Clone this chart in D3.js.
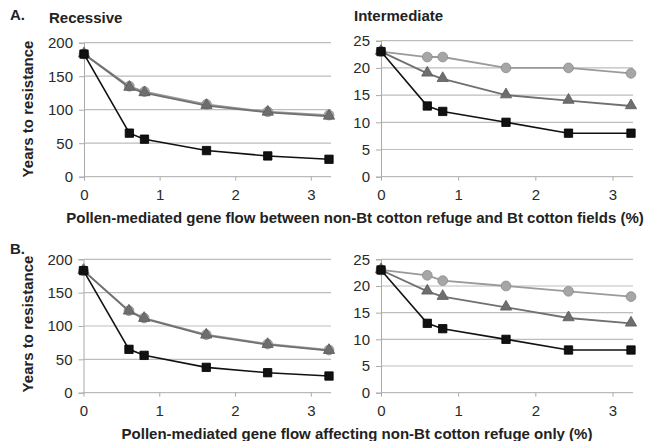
<!DOCTYPE html>
<html lang="en">
<head>
<meta charset="UTF-8" />
<title>Years to resistance</title>
<style>
  body { margin: 0; background: #fff; font-family: "Liberation Sans", Arial, sans-serif; }
  svg { display: block; }
  .tick text { font-size: 15px; fill: #2a2a2a; font-family: "Liberation Sans", Arial, sans-serif; }
  .lbl { font-weight: bold; font-size: 15px; fill: #222; }
</style>
</head>
<body>
<svg width="650" height="441"></svg>
<script src="https://d3js.org/d3.v7.min.js"></script>
<script>
// gene flow (%) on x
const flow = [0, 0.6, 0.8, 1.62, 2.43, 3.24];

// A. gene flow between refuge and Bt fields
const aRecCircle = [183, 135, 127, 108, 97, 92];
const aRecTriangle = [183, 133, 125, 106, 96, 90];
const aRecSquare = [183, 65, 56, 39, 31, 26];
const aIntCircle = [23, 22, 22, 20, 20, 19];
const aIntTriangle = [23, 19, 18, 15, 14, 13];
const aIntSquare = [23, 13, 12, 10, 8, 8];

// B. gene flow affecting refuge only
const bRecCircle = [183, 123, 112, 87, 73, 64];
const bRecTriangle = [183, 122, 111, 86, 72, 63];
const bRecSquare = [183, 65, 56, 38, 30, 25];
const bIntCircle = [23, 22, 21, 20, 19, 18];
const bIntTriangle = [23, 19, 18, 16, 14, 13];
const bIntSquare = [23, 13, 12, 10, 8, 8];

const recTicks = [0, 50, 100, 150, 200];
const intTicks = [0, 5, 10, 15, 20, 25];
const xTicks = [0, 1, 2, 3];

const svg = d3.select("svg");

const styles = {
  circle: { fill: "#a6a6a6", stroke: "#8c8c8c", line: "#9a9a9a" },
  triangle: { fill: "#6e6e6e", stroke: "#5a5a5a", line: "#707070" },
  square: { fill: "#111", stroke: "#000", line: "#111" }
};

function panel(x0, x1, yTop, yBot, yMax, ticks, series) {
  const x = d3.scaleLinear().domain([0, 3.24]).range([x0, x1 - 2]);
  const y = d3.scaleLinear().domain([0, yMax]).range([yBot, yTop]);
  const g = svg.append("g");

  // gridlines
  g.append("g").selectAll("line").data(ticks.filter(t => t > 0)).join("line")
    .attr("x1", x0).attr("x2", x1)
    .attr("y1", d => y(d)).attr("y2", d => y(d))
    .attr("stroke", "#bdbdbd").attr("stroke-width", 1.2);

  const ya = g.append("g").attr("transform", `translate(${x0},0)`)
    .call(d3.axisLeft(y).tickValues(ticks).tickSize(5).tickPadding(6));
  ya.select(".domain").attr("stroke", "#aaa");
  ya.selectAll(".tick line").attr("stroke", "#aaa");

  const xa = g.append("g").attr("transform", `translate(0,${yBot})`)
    .call(d3.axisBottom(x).tickValues(xTicks).tickFormat(d3.format("d"))
      .tickSize(4).tickPadding(9).tickSizeOuter(0));
  xa.select(".domain").attr("stroke", "#aaa").attr("d", `M${x0},0H${x1}`);
  xa.selectAll(".tick line").attr("stroke", "#aaa");

  const line = d3.line().x((d, i) => x(flow[i])).y(d => y(d));
  series.forEach(([vals, type]) => {
    const s = styles[type];
    g.append("path").datum(vals).attr("d", line)
      .attr("fill", "none").attr("stroke", s.line).attr("stroke-width", type === "square" ? 1.6 : 1.8);
    const m = g.append("g").selectAll("path").data(vals).join("path")
      .attr("transform", (d, i) => `translate(${x(flow[i])},${y(d)})`)
      .attr("fill", s.fill).attr("stroke", s.stroke).attr("stroke-width", 0.8);
    if (type === "circle") m.attr("d", d3.symbol(d3.symbolCircle, 75));
    if (type === "triangle") m.attr("d", d3.symbol(d3.symbolTriangle, 55)).attr("transform", (d, i) => `translate(${x(flow[i])},${y(d) - 0.5})`);
    if (type === "square") m.attr("d", d3.symbol(d3.symbolSquare, 70));
  });
}

panel(84, 331, 42.7, 176.7, 200, recTicks, [[aRecCircle, "circle"], [aRecTriangle, "triangle"], [aRecSquare, "square"]]);
panel(381, 633, 40.7, 176.7, 25, intTicks, [[aIntCircle, "circle"], [aIntTriangle, "triangle"], [aIntSquare, "square"]]);
panel(83.5, 331, 259.3, 392.7, 200, recTicks, [[bRecCircle, "circle"], [bRecTriangle, "triangle"], [bRecSquare, "square"]]);
panel(381, 633, 259.3, 392.7, 25, intTicks, [[bIntCircle, "circle"], [bIntTriangle, "triangle"], [bIntSquare, "square"]]);

// labels
const labels = [
  { t: "A.", x: 10, y: 20, a: "start" },
  { t: "Recessive", x: 49, y: 23, a: "start" },
  { t: "Intermediate", x: 354, y: 21, a: "start" },
  { t: "B.", x: 10, y: 254, a: "start" },
  { t: "Pollen-mediated gene flow between non-Bt cotton refuge and Bt cotton fields (%)", x: 355, y: 223, a: "middle" },
  { t: "Pollen-mediated gene flow affecting non-Bt cotton refuge only (%)", x: 357, y: 439, a: "middle" }
];
svg.selectAll("text.lbl").data(labels).join("text").attr("class", "lbl")
  .attr("x", d => d.x).attr("y", d => d.y).attr("text-anchor", d => d.a)
  .text(d => d.t);

[[109], [324]].forEach(([cy]) => {
  svg.append("text").attr("class", "lbl")
    .attr("transform", `translate(33,${cy}) rotate(-90)`)
    .attr("text-anchor", "middle").text("Years to resistance");
});
</script>
</body>
</html>
